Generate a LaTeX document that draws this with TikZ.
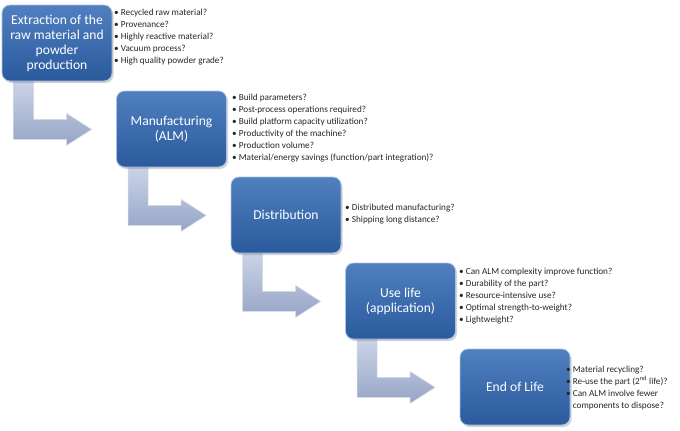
\documentclass[tikz,border=0pt]{standalone}
\usepackage{fontspec}
\setmainfont{Carlito}
\usetikzlibrary{shadows}
\pgfdeclarelayer{background}
\pgfsetlayers{background,main}
\definecolor{boxtop}{RGB}{80,128,192}
\definecolor{boxbot}{RGB}{42,90,156}
\definecolor{boxedge}{RGB}{170,195,228}
\definecolor{arrtop}{RGB}{206,214,233}
\definecolor{arrbot}{RGB}{150,165,198}
\begin{document}
\begin{tikzpicture}[x=1pt,y=-1pt,
  stagebox/.style={rounded corners=8pt, minimum width=110pt, minimum height=76pt,
    draw=boxedge, line width=0.8pt, top color=boxtop, bottom color=boxbot,
    text=white, font=\fontsize{13.6}{15}\selectfont, align=center, inner sep=1pt,
    drop shadow={shadow xshift=1.5pt, shadow yshift=-2pt, opacity=0.35}},
  qlist/.style={anchor=north west, align=left, font=\fontsize{9.2}{11.9}\selectfont,
    inner sep=0pt, text=black!85},
  bendarrow/.style={top color=arrtop, bottom color=arrbot, draw=white!60!arrbot, line width=0.6pt}
]
\useasboundingbox (0,0) rectangle (680,431);

\node[stagebox] (b1) at (57,43) {Extraction of the\\raw material and\\powder\\production};
\node[stagebox] (b2) at (171.5,129) {Manufacturing\\(ALM)};
\node[stagebox] (b3) at (286,215) {Distribution};
\node[stagebox] (b4) at (400.5,301) {Use life\\(application)};
\node[stagebox] (b5) at (515,387) {End of Life};

\newcommand{\bendarr}[1]{%
  \draw[bendarrow, shift={(#1.south west)}]
    (12,-4) -- (32,-4) -- (32,38) -- (65,38) -- (65,32) -- (90,48) -- (65,64)
    -- (65,58) -- (12,58) -- cycle;}
\begin{pgfonlayer}{background}
\bendarr{b1}
\bendarr{b2}
\bendarr{b3}
\bendarr{b4}
\end{pgfonlayer}

\node[qlist] (q1) at (114,9) {\textbullet\ Recycled raw material?\\
\textbullet\ Provenance?\\
\textbullet\ Highly reactive material?\\
\textbullet\ Vacuum process?\\
\textbullet\ High quality powder grade?};
\node[qlist] (q2) at (232,94) {\textbullet\ Build parameters?\\
\textbullet\ Post-process operations required?\\
\textbullet\ Build platform capacity utilization?\\
\textbullet\ Productivity of the machine?\\
\textbullet\ Production volume?\\
\textbullet\ Material/energy savings (function/part integration)?};
\node[qlist] (q3) at (345,204) {\textbullet\ Distributed manufacturing?\\
\textbullet\ Shipping long distance?};
\node[qlist] (q4) at (459,268) {\textbullet\ Can ALM complexity improve function?\\
\textbullet\ Durability of the part?\\
\textbullet\ Resource-intensive use?\\
\textbullet\ Optimal strength-to-weight?\\
\textbullet\ Lightweight?};
\node[qlist] (q5) at (566,366) {\textbullet\ Material recycling?\\
\textbullet\ Re-use the part (2\textsuperscript{nd} life)?\\
\textbullet\ Can ALM involve fewer\\
\phantom{\textbullet\ }components to dispose?};
\end{tikzpicture}
\end{document}
